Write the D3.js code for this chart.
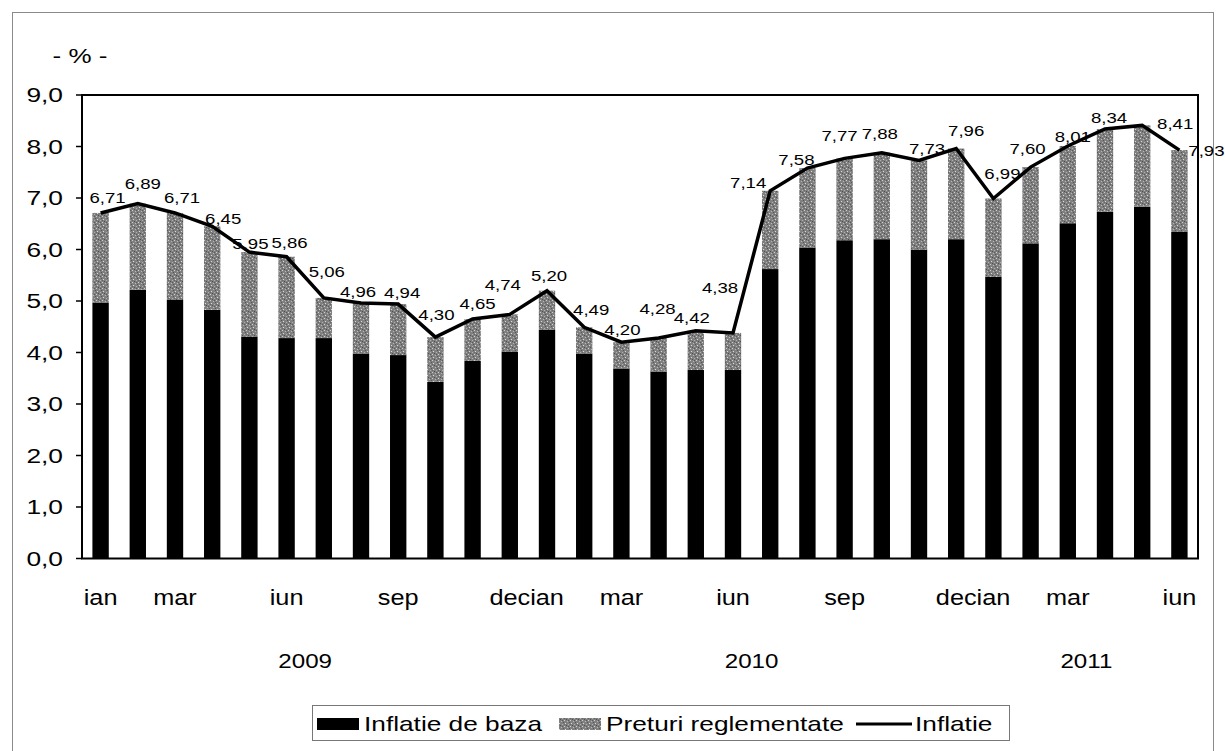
<!DOCTYPE html>
<html>
<head>
<meta charset="utf-8">
<script src="https://cdn.jsdelivr.net/npm/d3@7"></script>
<style>
  body { margin: 0; background: #fff; }
  svg text { font-family: "Liberation Sans", Arial, Helvetica, sans-serif; fill: #000; }
</style>
</head>
<body>
<svg id="chart" width="1225" height="751"></svg>
<script>
// month labels (blank = not shown on axis)
const monthLabels = ["ian","","mar","","","iun","","","sep","","","dec",
                     "ian","","mar","","","iun","","","sep","","","dec",
                     "ian","","mar","","","iun"];
const years = ["2009", "2010", "2011"];
const yearMonths = [12, 12, 6];

// series values (%)
const inflatieDeBaza = [4.97,5.22,5.02,4.83,4.31,4.28,4.28,3.98,3.95,3.43,3.84,4.02,
                        4.44,3.98,3.69,3.63,3.66,3.66,5.62,6.04,6.18,6.20,6.00,6.20,
                        5.47,6.12,6.51,6.73,6.83,6.35];
const preturiReglementate = [1.74,1.67,1.69,1.62,1.64,1.58,0.78,0.98,0.99,0.87,0.81,0.72,
                             0.76,0.51,0.51,0.65,0.76,0.72,1.52,1.54,1.59,1.68,1.73,1.76,
                             1.52,1.48,1.50,1.61,1.58,1.58];
const inflatie = [6.71,6.89,6.71,6.45,5.95,5.86,5.06,4.96,4.94,4.30,4.65,4.74,
                  5.20,4.49,4.20,4.28,4.42,4.38,7.14,7.58,7.77,7.88,7.73,7.96,
                  6.99,7.60,8.01,8.34,8.41,7.93];
const yTicks = [0,1,2,3,4,5,6,7,8,9];

// label nudges (px, relative to the line point)
const labelDx = [7,5,7,11,1,3,3,-3,4,1,5,-7,2,7,1,-1,-4,-13,-22,-11,-5,-2,8,10,9,-3,5,4,33,27];
const labelDy = [-15,-20,-15,-8,-9,-14,-26,-12,-12,-23,-16,-30,-15,-18,-13,-30,-13,-45,-8,-9,-23,-19,-12,-18,-25,-19,-9,-11,-2,0];

const fmt = v => d3.format(".2f")(v).replace(".", ",");
const fmt1 = v => d3.format(".1f")(v).replace(".", ",");

const svg = d3.select("#chart");
const plotLeft = 82, plotRight = 1198, plotTop = 95, plotBottom = 558.5;

// grey speckled texture for the regulated prices
const defs = svg.append("defs");
const pat = defs.append("pattern").attr("id", "speckle")
    .attr("patternUnits", "userSpaceOnUse").attr("width", 6).attr("height", 6);
pat.append("rect").attr("width", 6).attr("height", 6).attr("fill", "#808080");
[[0,0,"#cfcfcf"],[3,1,"#b8b8b8"],[1,3,"#dadada"],[4,4,"#b0b0b0"],[5,2,"#555"],[2,5,"#4e4e4e"],[0,4,"#666"],[4,0,"#5a5a5a"]]
    .forEach(p => pat.append("rect").attr("x", p[0]).attr("y", p[1]).attr("width", 1).attr("height", 1).attr("fill", p[2]));

// outer frame (scanned page border)
svg.append("rect").attr("x", 12.5).attr("y", 12.5).attr("width", 1201).attr("height", 780)
    .attr("fill", "none").attr("stroke", "#8a8a8a").attr("stroke-width", 1);

const idx = d3.range(inflatie.length);
const x = d3.scaleBand().domain(idx).range([plotLeft, plotRight]).paddingInner(0.56).paddingOuter(0.28);
const y = d3.scaleLinear().domain([0, 9]).range([plotBottom, plotTop]);
const cx = i => x(i) + x.bandwidth() / 2;

// stacked bars
const rows = idx.map(i => ({ i: i, baza: inflatieDeBaza[i], reg: preturiReglementate[i] }));
const stack = d3.stack().keys(["baza", "reg"])(rows);
const fills = { baza: "#000", reg: "url(#speckle)" };

svg.append("g").selectAll("g").data(stack).join("g")
    .attr("fill", d => fills[d.key])
  .selectAll("rect").data(d => d).join("rect")
    .attr("x", d => x(d.data.i))
    .attr("width", x.bandwidth())
    .attr("y", d => y(d[1]))
    .attr("height", d => y(d[0]) - y(d[1]));

// plot frame
svg.append("rect").attr("x", plotLeft).attr("y", plotTop)
    .attr("width", plotRight - plotLeft).attr("height", plotBottom - plotTop)
    .attr("fill", "none").attr("stroke", "#000").attr("stroke-width", 2);

// y axis ticks + labels
const yAxis = svg.append("g");
yAxis.selectAll("line").data(yTicks).join("line")
    .attr("x1", plotLeft - 6).attr("x2", plotLeft)
    .attr("y1", d => y(d)).attr("y2", d => y(d))
    .attr("stroke", "#000").attr("stroke-width", 1.5);
yAxis.selectAll("text").data(yTicks).join("text")
    .attr("transform", d => `translate(63,${y(d) + 7}) scale(1.35,1)`)
    .attr("text-anchor", "end").attr("font-size", 19.5)
    .text(d => fmt1(d));

svg.append("text").attr("transform", "translate(80,63) scale(1.3,1)")
    .attr("text-anchor", "middle").attr("font-size", 20).text("- % -");

// inflation line
const line = d3.line().x(i => cx(i)).y(i => y(inflatie[i]));
svg.append("path").datum(idx).attr("d", line)
    .attr("fill", "none").attr("stroke", "#000").attr("stroke-width", 3.5)
    .attr("stroke-linejoin", "miter");

// data labels
svg.append("g").selectAll("text").data(idx).join("text")
    .attr("transform", i => `translate(${cx(i) + labelDx[i]},${y(inflatie[i]) + labelDy[i] + 5.5}) scale(1.2,1)`)
    .attr("text-anchor", "middle").attr("font-size", 15.5)
    .text(i => fmt(inflatie[i]));

// month labels
svg.append("g").selectAll("text").data(idx.filter(i => monthLabels[i])).join("text")
    .attr("transform", i => `translate(${cx(i)},605) scale(1.15,1)`)
    .attr("text-anchor", "middle").attr("font-size", 22)
    .text(i => monthLabels[i]);

// year labels centred on their months
let start = 0;
const yearPos = years.map((yr, k) => {
  const a = start, b = start + yearMonths[k] - 1;
  start += yearMonths[k];
  return { yr: yr, xc: (cx(a) + cx(b)) / 2 };
});
svg.append("g").selectAll("text").data(yearPos).join("text")
    .attr("transform", d => `translate(${d.xc},668) scale(1.15,1)`)
    .attr("text-anchor", "middle").attr("font-size", 21)
    .text(d => d.yr);

// legend
const lg = svg.append("g");
lg.append("rect").attr("x", 312.5).attr("y", 705.5).attr("width", 697).attr("height", 35)
    .attr("fill", "#fff").attr("stroke", "#777").attr("stroke-width", 1);
const items = [
  { name: "Inflatie de baza", type: "rect", fill: "#000", x: 317 },
  { name: "Preturi reglementate", type: "rect", fill: "url(#speckle)", x: 559 },
  { name: "Inflatie", type: "line", x: 856 }
];
items.forEach(it => {
  if (it.type === "rect") {
    lg.append("rect").attr("x", it.x).attr("y", 718).attr("width", 42).attr("height", 12).attr("fill", it.fill);
  } else {
    lg.append("line").attr("x1", it.x).attr("x2", it.x + 56).attr("y1", 724).attr("y2", 724)
      .attr("stroke", "#000").attr("stroke-width", 3);
  }
  const tx = it.type === "rect" ? it.x + 47 : it.x + 59;
  lg.append("text").attr("transform", `translate(${tx},731) scale(1.25,1)`)
    .attr("font-size", 21).text(it.name);
});
</script>
</body>
</html>
